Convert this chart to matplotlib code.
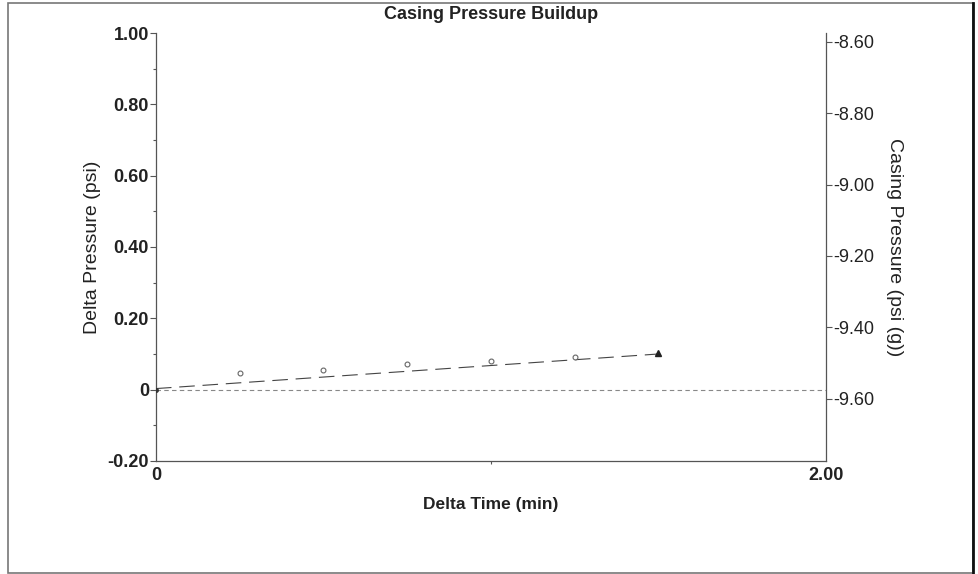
import matplotlib
matplotlib.use("Agg")
from matplotlib import pyplot as plt
from matplotlib.patches import Rectangle
from matplotlib.ticker import MultipleLocator, FixedLocator, FuncFormatter

plt.rcParams['font.family'] = ['Liberation Sans', 'DejaVu Sans']

# measured buildup points (delta time in min, delta pressure in psi)
time_min = [0.0, 0.25, 0.50, 0.75, 1.00, 1.25]
delta_psi = [0.0, 0.048, 0.056, 0.072, 0.079, 0.091]
last_time = [1.50]
last_delta = [0.103]

# fitted trend line
fit_time = [0.0, 1.50]
fit_delta = [0.003, 0.100]

left_ticks = [-0.20, 0, 0.20, 0.40, 0.60, 0.80, 1.00]
right_ticks = [-9.60, -9.40, -9.20, -9.00, -8.80, -8.60]
x_ticks = [0, 2.00]
offset = 9.575  # casing pressure at delta = 0


def left_fmt(v, pos):
    if abs(v) < 1e-9:
        return "0"
    return "%.2f" % v


fig = plt.figure(figsize=(9.79, 5.74), dpi=100)
ax = fig.add_axes([0.1593, 0.1969, 0.6844, 0.7456])

ax.axhline(0, color="#888888", lw=0.8, ls=(0, (4, 3)), zorder=1)
ax.plot(fit_time, fit_delta, color="#444444", lw=0.8, ls=(0, (14, 7)), zorder=2)
ax.plot(time_min[1:], delta_psi[1:], ls="none", marker="o", ms=3.5,
        mfc="white", mec="#666666", mew=0.8, zorder=3)
ax.plot(time_min[:1], delta_psi[:1], ls="none", marker="o", ms=2.5,
        mfc="#333333", mec="#333333", zorder=3)
ax.plot(last_time, last_delta, ls="none", marker="^", ms=5,
        mfc="#222222", mec="#222222", zorder=3)

ax.set_xlim(0, 2.0)
ax.set_ylim(-0.20, 1.00)
ax.xaxis.set_major_locator(FixedLocator(x_ticks))
ax.xaxis.set_minor_locator(FixedLocator([1.0]))
ax.xaxis.set_major_formatter(FuncFormatter(lambda v, p: "0" if v == 0 else "%.2f" % v))
ax.yaxis.set_major_locator(FixedLocator(left_ticks))
ax.yaxis.set_minor_locator(MultipleLocator(0.1))
ax.yaxis.set_major_formatter(FuncFormatter(left_fmt))

for s in ["top", "right"]:
    ax.spines[s].set_visible(False)
for s in ["left", "bottom"]:
    ax.spines[s].set_color("#555555")
    ax.spines[s].set_linewidth(0.9)

ax.tick_params(axis="both", which="major", length=4, width=0.8, color="#555555",
               labelsize=13, pad=1)
ax.tick_params(axis="both", which="minor", length=2, width=0.8, color="#555555")
ax.tick_params(axis="x", which="major", length=0, pad=4)
for lab in ax.get_xticklabels() + ax.get_yticklabels():
    lab.set_fontweight("bold")
    lab.set_color("#222222")

ax.set_xlabel("Delta Time (min)", fontsize=12.5, fontweight="bold", color="#222222", labelpad=10)
ax.set_ylabel("Delta Pressure (psi)", fontsize=14, color="#222222", labelpad=5)
ax.set_title("Casing Pressure Buildup", fontsize=13, fontweight="bold", color="#222222",
             pad=0, y=1.032)

ax2 = ax.twinx()
ax2.set_ylim(-0.20 - offset, 1.00 - offset)
ax2.yaxis.set_major_locator(FixedLocator(right_ticks))
ax2.yaxis.set_major_formatter(FuncFormatter(lambda v, p: "%.2f" % v))
for s in ["top", "left", "bottom"]:
    ax2.spines[s].set_visible(False)
ax2.spines["right"].set_color("#555555")
ax2.spines["right"].set_linewidth(0.9)
ax2.tick_params(axis="y", length=4, width=0.8, color="#555555", labelsize=13, pad=1)
for lab in ax2.get_yticklabels():
    lab.set_color("#222222")
ax2.set_ylabel("Casing Pressure (psi (g))", fontsize=14, color="#222222",
               rotation=-90, labelpad=21)

# outer frame
fig.add_artist(Rectangle((8 / 979, 0.002), 965 / 979, 1 - 3 / 574 - 0.002,
                         transform=fig.transFigure, fill=False,
                         edgecolor="#777777", lw=1.2))
fig.add_artist(plt.Line2D([973 / 979, 973 / 979], [0, 1 - 3 / 574],
                          transform=fig.transFigure, color="#111111", lw=2))

fig.savefig("out.png", dpi=100)
